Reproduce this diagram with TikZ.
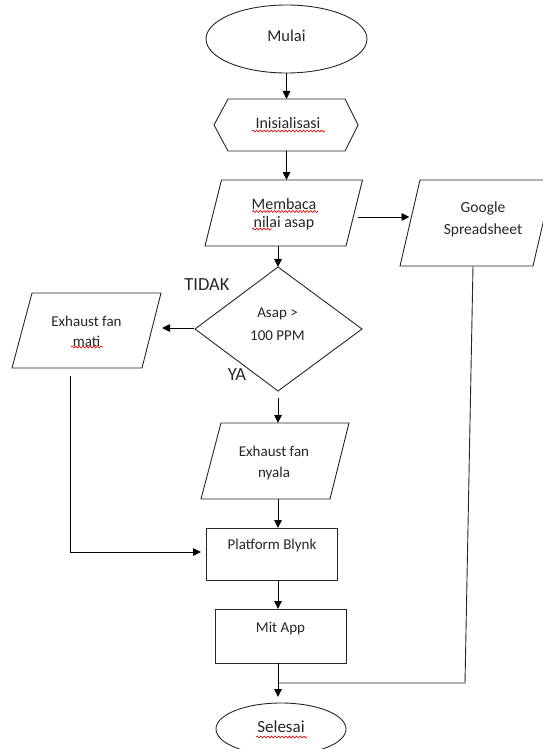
\documentclass[tikz,border=0pt]{standalone}
\usepackage{fontspec}
\setmainfont{Carlito}
\usetikzlibrary{arrows.meta,decorations.pathmorphing,shapes.geometric}
\begin{document}
\begin{tikzpicture}[x=1pt,y=-1pt,
  shapeline/.style={draw=black!85,line width=0.9pt},
  conn/.style={draw=black,line width=0.9pt,-{Triangle[length=8pt,width=7.5pt]}},
  plainline/.style={draw=black!85,line width=0.9pt},
  lbl/.style={text=black!85,align=center,inner sep=0pt,font=\fontsize{15}{21}\selectfont},
  bigl/.style={text=black!85,inner sep=0pt,font=\fontsize{18.5}{22}\selectfont},
  wavy/.style={draw=red!85!black,line width=0.6pt,decorate,decoration={snake,amplitude=1pt,segment length=3.6pt}}]
\useasboundingbox (0,0) rectangle (542,749);

% Mulai
\node[ellipse,shapeline,minimum width=161pt,minimum height=68pt,inner sep=0pt] (mulai) at (286.5,39) {};
\node[lbl,font=\fontsize{16.5}{20}\selectfont] (tmulai) at (286.5,36) {Mulai};

% Inisialisasi (hexagon)
\coordinate (hexN) at (286.5,99);
\coordinate (hexS) at (286.5,151);
\draw[shapeline] (228,99) -- (345,99) -- (358,125) -- (345,151) -- (228,151) -- (214,125) -- cycle;
\node[lbl,font=\fontsize{16}{20}\selectfont] (inis) at (288,123) {Inisialisasi};
\draw[wavy] (252,131) -- (325,131);

% Membaca nilai asap
\coordinate (bacaN) at (286.5,180);
\coordinate (bacaS) at (278,246);
\coordinate (bacaE) at (358,217);
\draw[shapeline] (221.5,180) -- (362.5,180) -- (346,246) -- (205,246) -- cycle;
\node[lbl,font=\fontsize{16}{18}\selectfont] (baca) at (284,214) {Membaca\\nilai asap};
\draw[wavy] (252,211.5) -- (318,211.5);
\draw[wavy] (252,229) -- (272,229);

% Google Spreadsheet
\coordinate (googW) at (409.5,217);
\coordinate (googS) at (473,266);
\draw[shapeline] (420,180) -- (553,180) -- (533,266) -- (400,266) -- cycle;
\node[lbl,font=\fontsize{15.5}{22}\selectfont] (goog) at (483,219) {Google\\Spreadsheet};

% Decision
\coordinate (decN) at (278,267);
\coordinate (decW) at (194,328);
\coordinate (decS) at (278,398);
\draw[shapeline] (278,267) -- (362,329) -- (278,391) -- (195,329) -- cycle;
\node[lbl,font=\fontsize{15}{23}\selectfont] (dec) at (277.5,324.5) {Asap >\\100 PPM};
\node[bigl] (tidak) at (207,285) {TIDAK};
\node[bigl] (ya) at (237,375) {YA};

% Exhaust fan mati
\coordinate (matiE) at (162,328);
\coordinate (matiS) at (70,376);
\coordinate (matiC) at (70,552);
\draw[shapeline] (32,293) -- (161,293) -- (142,368) -- (12,368) -- cycle;
\node[lbl,font=\fontsize{15}{20}\selectfont] (mati) at (86.5,331) {Exhaust fan\\mati};
\draw[wavy] (71,347) -- (103,347);

% Exhaust fan nyala
\coordinate (nyalaN) at (278,423);
\coordinate (nyalaS) at (278,499);
\draw[shapeline] (221,423) -- (349,423) -- (330,499) -- (201,499) -- cycle;
\node[lbl,font=\fontsize{15}{21}\selectfont] (nyala) at (274,462.5) {Exhaust fan\\nyala};

% Platform Blynk
\coordinate (blynkN) at (278,528);
\coordinate (blynkS) at (278,580);
\coordinate (blynkW) at (201,552);
\draw[shapeline] (206,528) rectangle (337,580);
\node[lbl] (blynk) at (272,545) {Platform Blynk};

% Mit App
\coordinate (mitN) at (278,609);
\coordinate (mitS) at (278,663);
\draw[shapeline] (215,609) rectangle (346,663);
\node[lbl] (mit) at (280.5,629) {Mit App};

% Selesai
\node[ellipse,shapeline,minimum width=130pt,minimum height=52pt,inner sep=0pt] (selesai) at (281,729) {};
\node[lbl,font=\fontsize{17}{20}\selectfont] (tselesai) at (281,727) {Selesai};
\draw[wavy] (256,737) -- (307,737);
\coordinate (selN) at (278,697);

% connectors
\coordinate (gturn) at (465,683);
\coordinate (gjoin) at (278,683);
\draw[conn] (mulai.south) -- (hexN);
\draw[conn] (hexS) -- (bacaN);
\draw[conn] (bacaE) -- (googW);
\draw[conn] (bacaS) -- (decN);
\draw[conn] (decW) -- (matiE);
\draw[conn] (decS) -- (nyalaN);
\draw[conn] (nyalaS) -- (blynkN);
\draw[conn] (matiS) -- (matiC) -- (blynkW);
\draw[conn] (blynkS) -- (mitN);
\draw[conn] (mitS) -- (selN);
\draw[plainline] (googS) -- (gturn) -- (gjoin);
\end{tikzpicture}
\end{document}
